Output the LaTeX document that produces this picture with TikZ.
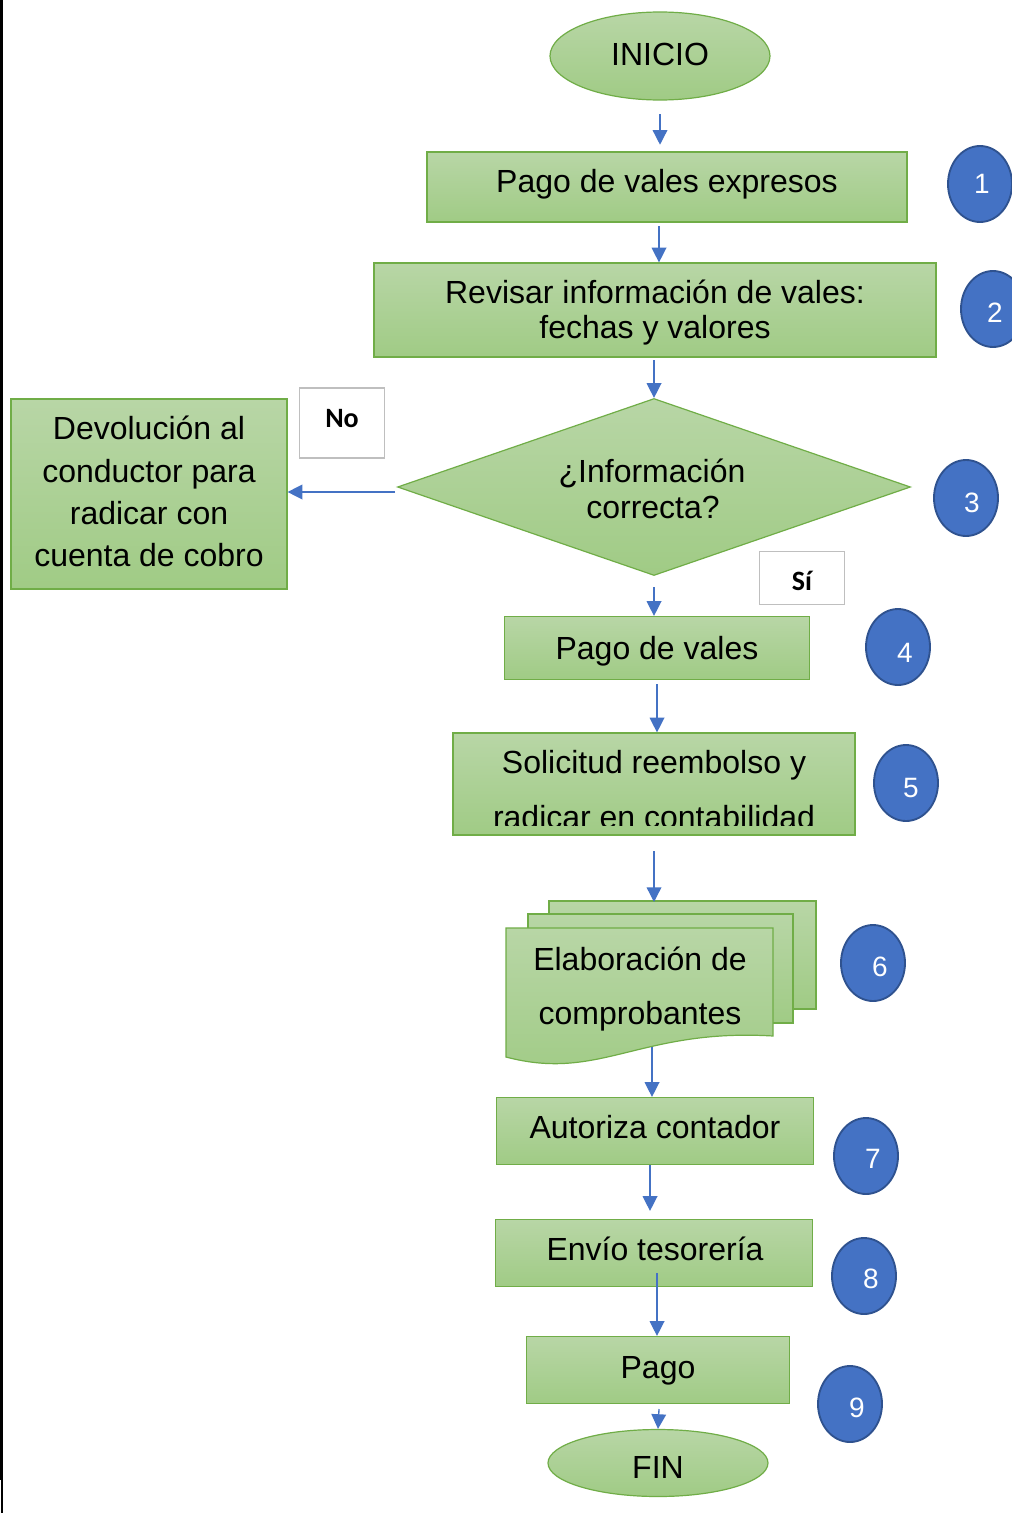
\documentclass[tikz,border=0pt]{standalone}
\usepackage{fontspec}
\setmainfont{Liberation Sans}
\newfontfamily\calib{Carlito}
\usetikzlibrary{shapes.geometric,arrows.meta}
\definecolor{gtop}{RGB}{184,214,166}
\definecolor{gbot}{RGB}{160,203,133}
\definecolor{gline}{RGB}{112,173,71}
\definecolor{arrblue}{RGB}{68,114,196}
\definecolor{cfill}{RGB}{68,114,196}
\definecolor{cline}{RGB}{47,82,143}
\definecolor{lblgray}{RGB}{191,191,191}
\begin{document}
\begin{tikzpicture}[x=0.75pt,y=-0.75pt,
  gshape/.style={draw=gline, line width=0.9pt, top color=gtop, bottom color=gbot},
  rbox/.style 2 args={gshape, rectangle, inner sep=0pt,
    minimum width={#1*0.75pt}, minimum height={#2*0.75pt}},
  ebox/.style 2 args={gshape, ellipse, inner sep=0pt,
    minimum width={#1*0.75pt}, minimum height={#2*0.75pt}},
  numc/.style={ellipse, draw=cline, line width=1.4pt, fill=cfill, inner sep=0pt,
    minimum width={64*0.75pt}, minimum height={76*0.75pt}},
  numt/.style={anchor=base, inner sep=0pt, text=white, font=\fontsize{21}{23}\selectfont},
  lbl/.style={draw=lblgray, line width=1.2pt, fill=white, inner sep=0pt,
    minimum width={85*0.75pt}},
  lbltext/.style={anchor=base, inner sep=0pt, font=\calib\bfseries\fontsize{21}{23}\selectfont},
  tl/.style={anchor=base, inner sep=0pt, text=black, font=\fontsize{24}{27}\selectfont},
  arr/.style={draw=arrblue, line width=1pt, -{Triangle[width=11pt,length=11pt]}}
]
\useasboundingbox (0,0) rectangle (1012,1513);
\fill[white] (0,0) rectangle (1012,1513);
% left page edge
\draw[line width=2.4pt] (1.6,0) -- (1.6,1480);
\draw[line width=1.2pt] (2,1480) -- (2,1513);

% main flow shapes
\node[ebox={220}{88}] (ini) at (660,56) {};
\node[tl] (init) at (660,66) {INICIO};
\node[rbox={480}{70}] (b1) at (667,187) {};
\node[tl] (b1t) at (667,192) {Pago de vales expresos};
\node[rbox={562}{94}] (b2) at (655,310) {};
\node[tl] (b2a) at (655,303) {Revisar información de vales:};
\node[tl] (b2b) at (655,338) {fechas y valores};
\node[diamond, gshape, inner sep=0pt, aspect=2.9,
  minimum width={513*0.75pt}, minimum height={177*0.75pt}] (dia) at (654,487) {};
\node[tl] (diaa) at (652,482) {¿Información};
\node[tl] (diab) at (653,518) {correcta?};
\node[rbox={276}{190}] (dev) at (149,494) {};
\node[tl] (deva) at (149,439) {Devolución al};
\node[tl] (devb) at (149,482) {conductor para};
\node[tl] (devc) at (149,524) {radicar con};
\node[tl] (devd) at (149,566) {cuenta de cobro};
\node[lbl, minimum height={70*0.75pt}] (no) at (342,423) {};
\node[lbltext] (notxt) at (342,427) {No};
\node[lbl, minimum height={53*0.75pt}] (si) at (802,578) {};
\node[lbltext] (sitxt) at (802,590) {Sí};
\node[rbox={305}{63}] (b4) at (657,648) {};
\node[tl] (b4t) at (657,659) {Pago de vales};
\node[rbox={402}{102}] (b5) at (654,784) {};
\node[tl] (b5a) at (654,773) {Solicitud reembolso y};
\begin{scope}
  \clip (453,733) rectangle (855,825);
  \node[tl] (b5b) at (654,828) {radicar en contabilidad};
\end{scope}

% multidocument
\draw[gshape] (549,901) rectangle (816,1009);
\draw[gshape] (528,914) rectangle (793,1023);
\draw[gshape] (506,928) -- (773,928) -- (773,1036)
  .. controls (640,1028) and (600,1082) .. (506,1057) -- cycle;
\node[tl] (doca) at (640,970) {Elaboración de};
\node[tl] (docb) at (640,1024) {comprobantes};
\coordinate (docin) at (654,902);
\coordinate (docout) at (652,1047);

\node[rbox={317}{67}] (b7) at (655,1131) {};
\node[tl] (b7t) at (655,1138) {Autoriza contador};
\node[rbox={317}{67}] (b8) at (654,1253) {};
\node[tl] (b8t) at (655,1260) {Envío tesorería};
\node[rbox={263}{67}] (b9) at (658,1370) {};
\node[tl] (b9t) at (658,1378) {Pago};
\node[ebox={220}{67}] (fin) at (658,1463) {};
\node[tl] (fint) at (658,1478) {FIN};

% numbered circles
\node[numc] (n1) at (980,184) {};
\node[numt] (n1t) at (982,193) {1};
\node[numc] (n2) at (993,309) {};
\node[numt] (n2t) at (995,322) {2};
\node[numc] (n3) at (966,498) {};
\node[numt] (n3t) at (972,512) {3};
\node[numc] (n4) at (898,647) {};
\node[numt] (n4t) at (905,662) {4};
\node[numc] (n5) at (906,783) {};
\node[numt] (n5t) at (911,797) {5};
\node[numc] (n6) at (873,963) {};
\node[numt] (n6t) at (880,976) {6};
\node[numc] (n7) at (866,1156) {};
\node[numt] (n7t) at (873,1168) {7};
\node[numc] (n8) at (864,1276) {};
\node[numt] (n8t) at (871,1288) {8};
\node[numc] (n9) at (850,1404) {};
\node[numt] (n9t) at (857,1417) {9};

% connectors
\coordinate (s1) at (660,114);
\coordinate (s2) at (659,226);
\coordinate (s3) at (654,360);
\coordinate (s4) at (395,492);
\coordinate (s5) at (654,587);
\coordinate (s6) at (657,684);
\coordinate (s7) at (654,851);
\coordinate (s9) at (650,1165);
\coordinate (s10) at (657,1273);
\coordinate (s11) at (659,1409);
\draw[arr, shorten >=5pt] (s1) -- (s1 |- b1.north);
\draw[arr] (s2) -- (s2 |- b2.north);
\draw[arr] (s3) -- (s3 |- dia.north);
\draw[arr] (s4) -- (s4 -| dev.east);
\draw[arr] (s5) -- (s5 |- b4.north);
\draw[arr] (s6) -- (s6 |- b5.north);
\draw[arr] (s7) -- (docin);
\draw[arr] (docout) -- (docout |- b7.north);
\draw[arr, shorten >=6pt] (s9) -- (s9 |- b8.north);
\draw[arr] (s10) -- (s10 |- b9.north);
\draw[arr] (s11) -- (fin.north);
\end{tikzpicture}
\end{document}
